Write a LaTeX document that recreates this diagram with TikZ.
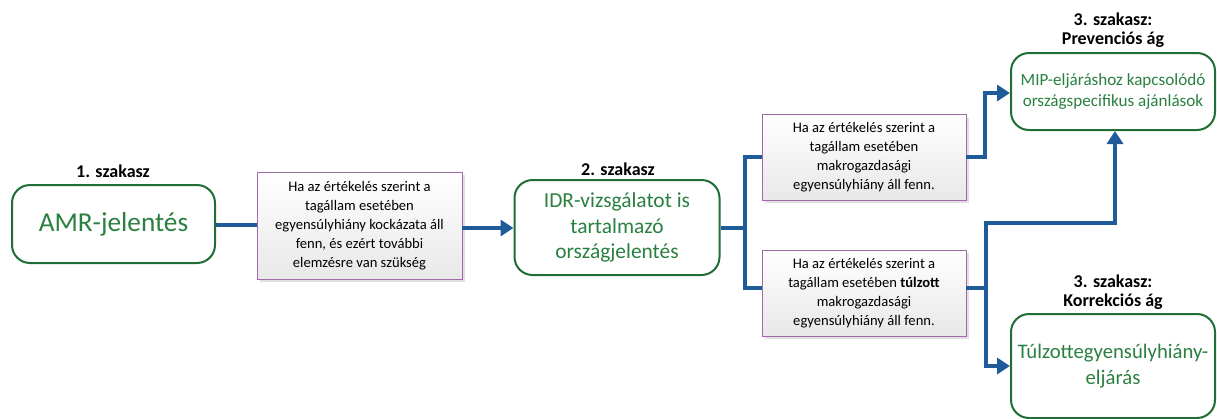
\documentclass[tikz,border=0pt]{standalone}
\usepackage{fontspec}
\setmainfont{Carlito}
\usetikzlibrary{arrows.meta}
\definecolor{conn}{HTML}{1F5B98}
\definecolor{gbord}{HTML}{1E6E35}
\definecolor{gtext}{HTML}{2A8040}
\definecolor{pbord}{HTML}{A06AA8}
\begin{document}
\begin{tikzpicture}[x=1pt,y=-1pt,
  stage/.style={draw=gbord,line width=2pt,rounded corners=18pt,fill=white,text=gtext,align=center,inner sep=0pt},
  cond/.style={draw=pbord,line width=0.8pt,top color=white,bottom color=black!9,align=center,inner sep=0pt,font=\fontsize{14.6}{19}\selectfont},
  lbl/.style={font=\bfseries\fontsize{18}{19.5}\selectfont,align=center},
  link/.style={draw=conn,line width=4pt},
  arr/.style={link,-{Triangle[width=16pt,length=13pt]}}]
\useasboundingbox (0,0) rectangle (1217,418);
% shadows
\fill[black!12] (260,175) rectangle (465,282);
\fill[black!12] (765,118) rectangle (969,203);
\fill[black!12] (765,253) rectangle (969,339);
% stage nodes
\node[stage,minimum width=203pt,minimum height=78pt,font=\fontsize{27.3}{32}\selectfont] (amr) at (113.5,224) {AMR-jelentés};
\node[stage,minimum width=205pt,minimum height=95pt,font=\fontsize{21.4}{25.5}\selectfont] (idr) at (617,227.5) {IDR-vizsgálatot is\\tartalmazó\\országjelentés};
\node[stage,minimum width=204pt,minimum height=77pt,font=\fontsize{17.1}{21.5}\selectfont] (mip) at (1113,91.5) {MIP-eljáráshoz kapcsolódó\\országspecifikus ajánlások};
\node[stage,minimum width=204pt,minimum height=104pt,font=\fontsize{20.7}{25.5}\selectfont] (tul) at (1113,366) {Túlzottegyensúlyhiány-\\eljárás};
% condition nodes
\node[cond,minimum width=205pt,minimum height=107pt] (c1) at (359.5,225.5) {Ha az értékelés szerint a\\tagállam esetében\\egyensúlyhiány kockázata áll\\fenn, és ezért további\\elemzésre van szükség};
\node[cond,minimum width=204pt,minimum height=86pt] (c2) at (864,157.5) {Ha az értékelés szerint a\\tagállam esetében\\makrogazdasági\\egyensúlyhiány áll fenn.};
\node[cond,minimum width=204pt,minimum height=86pt] (c3) at (864,293) {Ha az értékelés szerint a\\tagállam esetében \textbf{túlzott}\\makrogazdasági\\egyensúlyhiány áll fenn.};
% labels
\node[lbl] (l1) at (113,171) {1. szakasz};
\node[lbl] (l2) at (618,169) {2. szakasz};
\node[lbl] (l3) at (1113,30) {3. szakasz:\\Prevenciós ág};
\node[lbl] (l4) at (1113,292) {3. szakasz:\\Korrekciós ág};
% connectors
\coordinate (j1) at (745,228);
\coordinate (j2) at (986,288);
\draw[link] (amr.east |- 0,225) -- (c1.west |- 0,225);
\draw[arr] (c1.east |- 0,228) -- (idr.west |- 0,228);
\draw[link] (idr.east |- 0,228) -- (j1);
\draw[link,line cap=butt] (c2.west |- 0,157) -| (j1) |- (c3.west |- 0,288);
\draw[arr] (c2.east |- 0,157) -- (985,157) |- (mip.west |- 0,93);
\draw[link] (c3.east |- 0,288) -- (j2);
\draw[arr] (j2) -- (986,223) -| (mip.south -| 1115,0);
\draw[arr] (j2) |- (tul.west |- 0,366);
\end{tikzpicture}
\end{document}
